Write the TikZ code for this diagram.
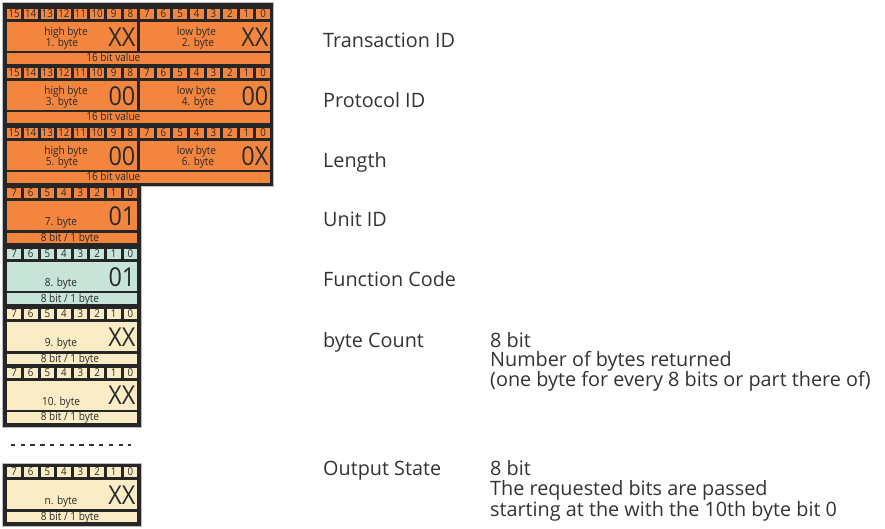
\documentclass[tikz,border=0pt]{standalone}
\usepackage{fontspec}
\setmainfont{Open Sans}
\newfontfamily\condfont[FakeStretch=0.9]{Open Sans}

\definecolor{panelgray}{HTML}{262626}
\definecolor{edgegray}{HTML}{BDBDBD}
\definecolor{regorange}{HTML}{F3853F}
\definecolor{regteal}{HTML}{C6E4D8}
\definecolor{regcream}{HTML}{FAEDC6}
\definecolor{ink}{HTML}{333333}
\definecolor{boxink}{HTML}{2A2A2A}

\tikzset{
  panel/.style={fill=panelgray, draw=edgegray, line width=0.6pt},
  cell/.style={draw=none, inner sep=0pt, outer sep=0pt, anchor=north west},
  bitno/.style={font=\condfont\fontsize{10.8}{10.8}\selectfont, text=boxink, anchor=base, inner sep=0pt},
  smalltxt/.style={font=\condfont\fontsize{11.2}{11.2}\selectfont, text=boxink, anchor=base, inner sep=0pt},
  valtxt/.style={font=\condfont\fontsize{26}{26}\selectfont, text=boxink, anchor=base east, inner sep=0pt},
  fieldname/.style={font=\fontsize{19.8}{20}\selectfont, text=ink, anchor=base west, inner sep=0pt},
  dashline/.style={draw=ink, line width=1.5pt, dash pattern=on 4.5pt off 5.3pt},
}

% one row of bit number cells: name, top, count, fill
\newcommand\bitcells[4]{%
  \foreach \k in {1,...,#3} {
    \pgfmathsetmacro\bx{7.3+(\k-1)*16.6}
    \pgfmathtruncatemacro\bn{#3-\k}
    \node[cell, fill=#4, minimum width=13.6pt, minimum height=10pt] (#1-b\bn) at (\bx,#2) {};
    \node[bitno] (#1-t\bn) at ([yshift=-8.6pt]#1-b\bn.north) {\bn};
  }
}

% 16 bit register: name, top, high byte no., high value, low byte no., low value
\newcommand\wideword[6]{%
  \bitcells{#1}{#2}{16}{regorange}
  \node[cell, fill=regorange, minimum width=129.8pt, minimum height=28.8pt] (#1-hi) at (7.3,{#2+12.8}) {};
  \node[cell, fill=regorange, minimum width=129.6pt, minimum height=28.8pt] (#1-lo) at (140.3,{#2+12.8}) {};
  \node[cell, fill=regorange, minimum width=262.6pt, minimum height=10.8pt] (#1-bar) at (7.3,{#2+43.6}) {};
  \node[smalltxt] (#1-hi1) at (66,{#2+25.8}) {high byte};
  \node[smalltxt] (#1-hi2) at (62,{#2+37.3}) {#3. byte};
  \node[valtxt] (#1-hiv) at (135.5,{#2+37}) {#4};
  \node[smalltxt] (#1-lo1) at (196.5,{#2+25.8}) {low byte};
  \node[smalltxt] (#1-lo2) at (198,{#2+37.3}) {#5. byte};
  \node[valtxt] (#1-lov) at (268.5,{#2+37}) {#6};
  \node[smalltxt] (#1-bart) at (113.3,{#2+52.5}) {16 bit value};
}

% 8 bit register: name, top, fill, byte label, value
\newcommand\byteword[5]{%
  \bitcells{#1}{#2}{8}{#3}
  \node[cell, fill=#3, minimum width=129.8pt, minimum height=29pt] (#1-main) at (7.3,{#2+13}) {};
  \node[cell, fill=#3, minimum width=129.8pt, minimum height=10.8pt] (#1-bar) at (7.3,{#2+44.2}) {};
  \node[smalltxt] (#1-lab) at (61,{#2+37.5}) {#4 byte};
  \node[valtxt] (#1-val) at (135.5,{#2+37}) {#5};
  \node[smalltxt] (#1-bart) at (70,{#2+53}) {8 bit / 1 byte};
}

\begin{document}
\begin{tikzpicture}[x=1pt, y=-1pt]
\useasboundingbox (0,0) rectangle (885,528);

% dark frames
\path[panel] (2,2) -- (273,2) -- (273,186) -- (141,186) -- (141,427) -- (2,427) -- cycle;
\path[panel] (2,463) rectangle (141,526);

% registers
\wideword{tid}{9.3}{1}{XX}{2}{XX}
\wideword{pid}{68.3}{3}{00}{4}{00}
\wideword{len}{128.3}{5}{00}{6}{0X}
\byteword{uid}{188.3}{regorange}{7.}{01}
\byteword{fc}{249}{regteal}{8.}{01}
\byteword{bc}{309.3}{regcream}{9.}{XX}
\byteword{d10}{367.7}{regcream}{10.}{XX}
\byteword{dn}{467.3}{regcream}{n.}{XX}

% gap marker
\coordinate (gapL) at (10.7,445);
\coordinate (gapR) at (131,445);
\draw[dashline] (gapL) -- (gapR);

% field names
\node[fieldname] (n-tid) at (323,47.3) {Transaction ID};
\node[fieldname] (n-pid) at (323,107.8) {Protocol ID};
\node[fieldname] (n-len) at (323,167) {Length};
\node[fieldname] (n-uid) at (323,226.5) {Unit ID};
\node[fieldname] (n-fc) at (323,286.5) {Function Code};
\node[fieldname] (n-bc) at (323,347) {byte Count};
\node[fieldname] (n-os) at (323,475) {Output State};

% descriptions
\node[fieldname] (d-bc1) at (490,347) {8 bit};
\node[fieldname] (d-bc2) at (490,366.5) {Number of bytes returned};
\node[fieldname] (d-bc3) at (490,386.5) {(one byte for every 8 bits or part there of)};
\node[fieldname] (d-os1) at (490,475) {8 bit};
\node[fieldname] (d-os2) at (490,495.5) {The requested bits are passed};
\node[fieldname] (d-os3) at (490,516) {starting at the with the 10th byte bit 0};
\end{tikzpicture}
\end{document}
